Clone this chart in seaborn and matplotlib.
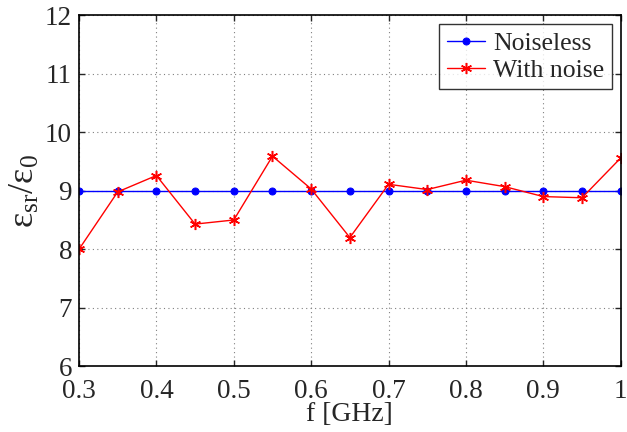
import pandas as pd
import seaborn as sns
import matplotlib
matplotlib.use('Agg')
import matplotlib.pyplot as plt

# data
freq = [0.3, 0.35, 0.4, 0.45, 0.5, 0.55, 0.6, 0.65, 0.7, 0.75, 0.8, 0.85, 0.9, 0.95, 1.0]
noiseless = [9.0] * len(freq)
with_noise = [8.0, 8.98, 9.26, 8.43, 8.5, 9.59, 9.03, 8.2, 9.11, 9.02, 9.18, 9.07, 8.9, 8.88, 9.56]

df = pd.DataFrame({'f': freq, 'Noiseless': noiseless, 'With noise': with_noise})

sns.set_style('ticks')
plt.rcParams['font.family'] = ['Liberation Serif', 'DejaVu Serif']
plt.rcParams['mathtext.fontset'] = 'custom'
plt.rcParams['mathtext.rm'] = 'Liberation Serif'
plt.rcParams['mathtext.it'] = 'Liberation Serif:italic'

fig, ax = plt.subplots(figsize=(6.27, 4.32), dpi=100)

sns.lineplot(data=df, x='f', y='Noiseless', ax=ax, color='blue', marker='o',
             markersize=5, markeredgecolor='blue', linewidth=1, label='Noiseless')
sns.lineplot(data=df, x='f', y='With noise', ax=ax, color='red', marker=(6, 2, 0),
             markersize=8, markeredgecolor='red', markeredgewidth=1.1,
             linewidth=1, label='With noise')

ax.set_xlim(0.3, 1.0)
ax.set_ylim(6, 12)
ax.set_xticks([0.3, 0.4, 0.5, 0.6, 0.7, 0.8, 0.9, 1.0])
ax.set_xticklabels(['0.3', '0.4', '0.5', '0.6', '0.7', '0.8', '0.9', '1'])
ax.set_yticks([6, 7, 8, 9, 10, 11, 12])
ax.grid(True, linestyle=(0, (1, 3)), color='gray', linewidth=0.8)
ax.tick_params(direction='in', labelsize=19.5, length=4, top=True, right=True, width=1)
ax.tick_params(axis='x', pad=9)
ax.tick_params(axis='y', pad=5)
for s in ax.spines.values():
    s.set_linewidth(1.2)
    s.set_color('black')

ax.set_xlabel('f [GHz]', fontsize=20, labelpad=-1)
ax.set_ylabel(r'ε$_{\rm sr}$/ε$_{\rm 0}$', fontsize=26, labelpad=2)

leg = ax.legend(loc='upper right', fontsize=18.5, frameon=True, fancybox=False,
                borderaxespad=0.35, handlelength=1.5, borderpad=0.3,
                labelspacing=0.15, handletextpad=0.3)
leg.get_frame().set_edgecolor('black')
leg.get_frame().set_linewidth(1)

fig.subplots_adjust(left=0.126, right=0.99, top=0.965, bottom=0.152)
fig.savefig('out.png', dpi=100)
